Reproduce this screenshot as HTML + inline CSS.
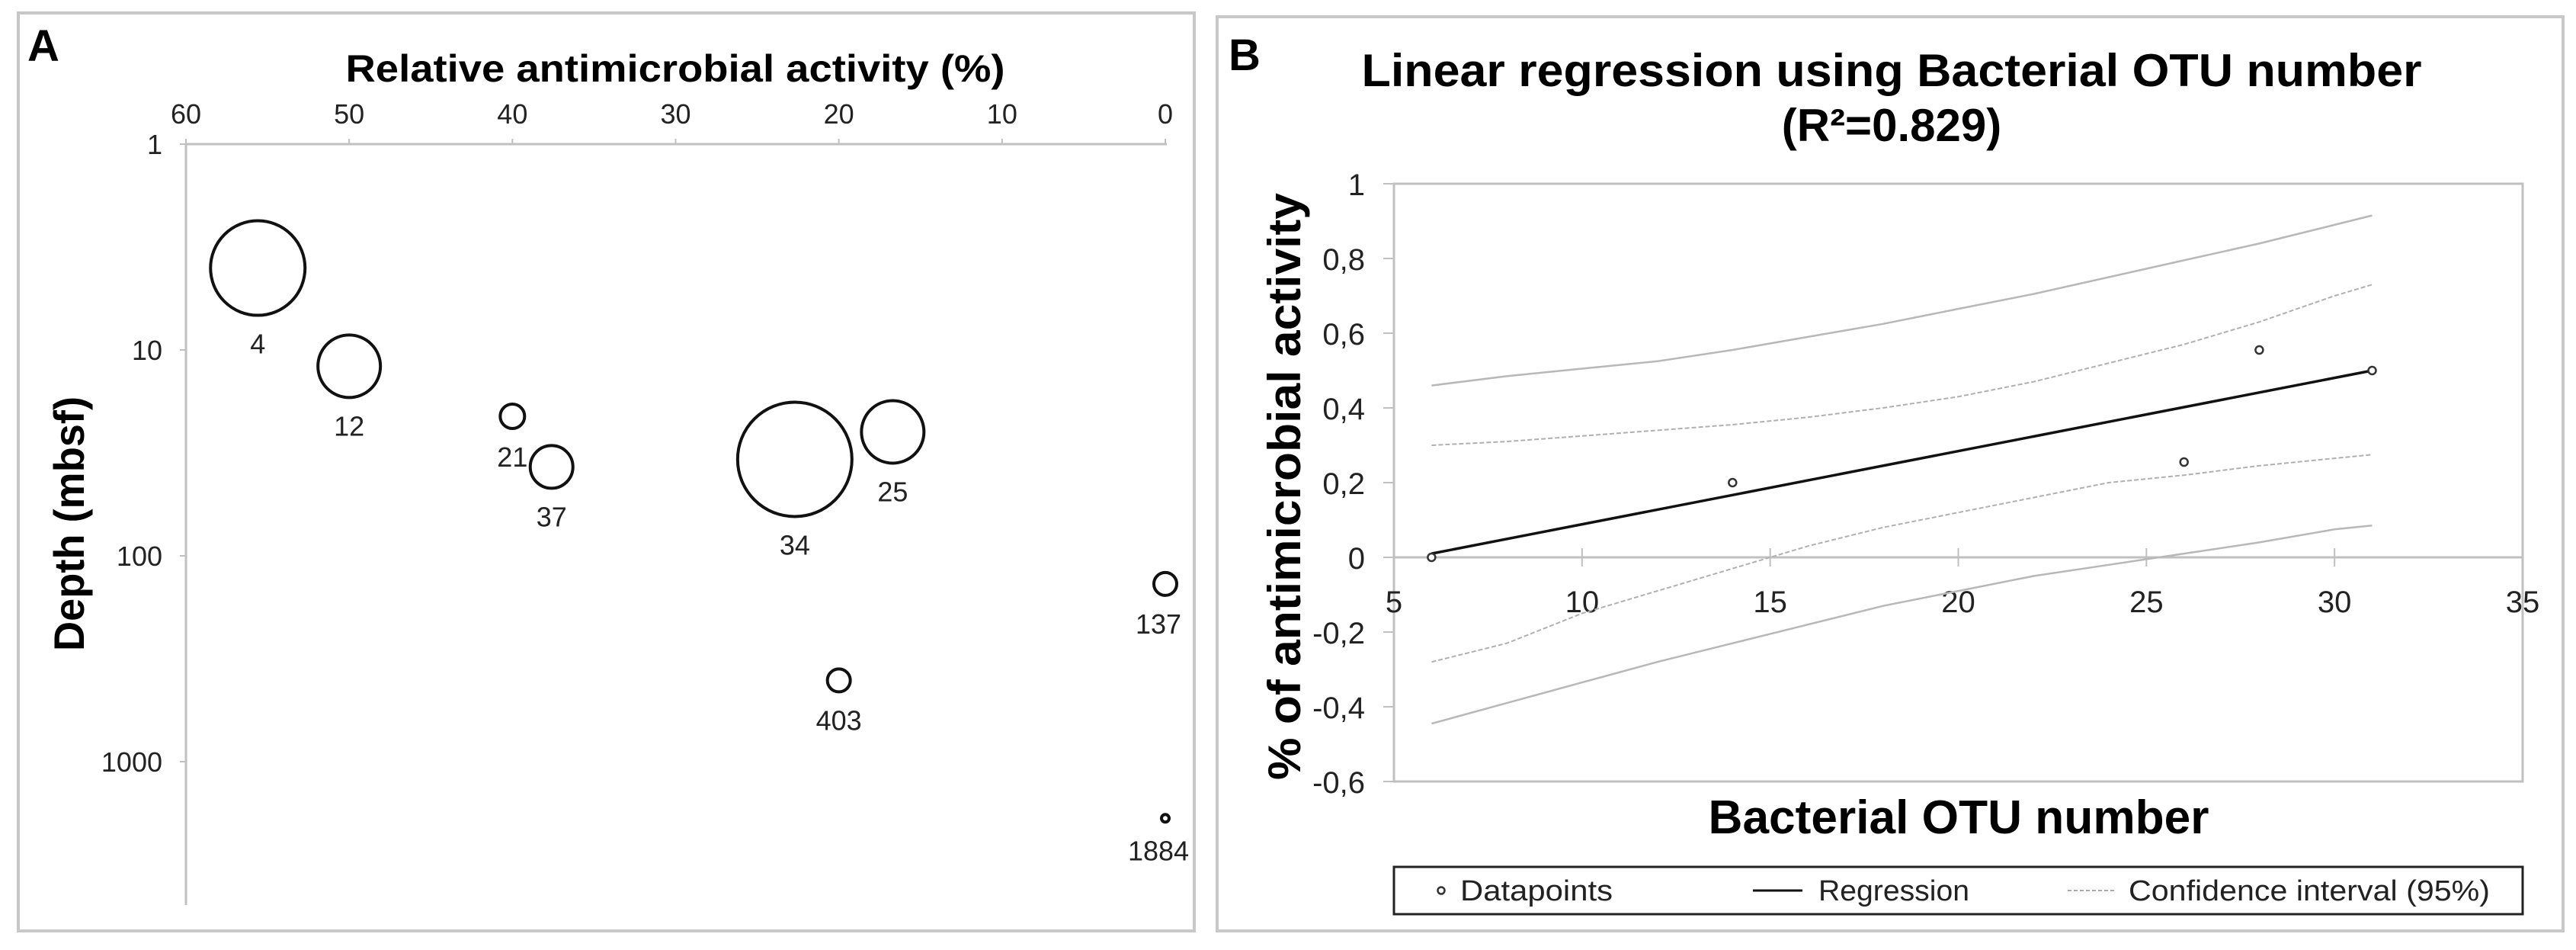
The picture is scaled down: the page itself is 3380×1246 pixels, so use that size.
<!DOCTYPE html>
<html><head><meta charset="utf-8"><style>
html,body{margin:0;padding:0;background:#fff;}
svg{display:block;font-family:"Liberation Sans",Arial,sans-serif;}
</style></head><body>
<svg id="fig" width="3380" height="1246" viewBox="0 0 3380 1246" xmlns="http://www.w3.org/2000/svg">
<rect x="0" y="0" width="3380" height="1246" fill="#fff"/>
<!-- Panel A -->
<rect x="24" y="17" width="1543" height="1204" fill="#fff" stroke="#c8c8c8" stroke-width="4"/>
<text x="36" y="80" font-size="58" font-weight="bold">A</text>
<text x="886" y="107" font-size="50" font-weight="bold" text-anchor="middle" textLength="865" lengthAdjust="spacingAndGlyphs">Relative antimicrobial activity (%)</text>
<text transform="translate(110,687) rotate(-90)" font-size="56" font-weight="bold" text-anchor="middle" textLength="334" lengthAdjust="spacingAndGlyphs">Depth (mbsf)</text>
<g id="axesA"></g>
<g id="bubbles"></g>
<!-- Panel B -->
<rect x="1597" y="22" width="1766" height="1199" fill="#fff" stroke="#c8c8c8" stroke-width="4"/>
<text x="1612" y="92" font-size="58" font-weight="bold">B</text>
<text x="2482" y="113" font-size="60" font-weight="bold" text-anchor="middle" textLength="1391" lengthAdjust="spacingAndGlyphs">Linear regression using Bacterial OTU number</text>
<text x="2482" y="185" font-size="60" font-weight="bold" text-anchor="middle">(R²=0.829)</text>
<text transform="translate(1706,638) rotate(-90)" font-size="60" font-weight="bold" text-anchor="middle" textLength="770" lengthAdjust="spacingAndGlyphs">% of antimicrobial activity</text>
<text x="2570" y="1093" font-size="62" font-weight="bold" text-anchor="middle" textLength="657" lengthAdjust="spacingAndGlyphs">Bacterial OTU number</text>
<g id="plotB"></g>
<g>
<rect x="1829" y="1137" width="1481" height="62" fill="#fff" stroke="#222" stroke-width="3"/>
<circle cx="1891" cy="1168" r="4.5" fill="none" stroke="#333" stroke-width="2.5"/>
<text x="1916" y="1181" font-size="38" textLength="200" lengthAdjust="spacingAndGlyphs" fill="#222">Datapoints</text>
<line x1="2300" y1="1168" x2="2365" y2="1168" stroke="#111" stroke-width="3"/>
<text x="2386" y="1181" font-size="38" textLength="198" lengthAdjust="spacingAndGlyphs" fill="#222">Regression</text>
<line x1="2713" y1="1168" x2="2777" y2="1168" stroke="#aaa" stroke-width="2" stroke-dasharray="5,3"/>
<text x="2793" y="1181" font-size="38" textLength="474" lengthAdjust="spacingAndGlyphs" fill="#222">Confidence interval (95%)</text>
</g>
</svg>
<script>
// Panel A data
const actTicks = [60, 50, 40, 30, 20, 10, 0];
const depthTicks = [1, 10, 100, 1000];
const activity = [55.6, 50, 40, 37.6, 22.7, 16.7, 0, 20, 0];
const depth = [4, 12, 21, 37, 34, 25, 137, 403, 1884];
const bubbleSize = [62, 41, 16, 28, 75, 41, 15, 15, 5];
const bubbleLabels = ["4", "12", "21", "37", "34", "25", "137", "403", "1884"];
// Panel B data
const bxTicks = [5, 10, 15, 20, 25, 30, 35];
const byTicks = [1, 0.8, 0.6, 0.4, 0.2, 0, -0.2, -0.4, -0.6];
const byTickLabels = ["1", "0,8", "0,6", "0,4", "0,2", "0", "-0,2", "-0,4", "-0,6"];
const otu = [6, 14, 26, 28, 31];
const antiAct = [0, 0.2, 0.255, 0.555, 0.5];
const regX = [6, 31];
const regY = [0.01, 0.5];
const ciX = [6, 8, 10, 12, 14, 16, 18, 20, 22, 24, 26, 28, 30, 31];
const ciUpper = [0.30, 0.31, 0.325, 0.34, 0.355, 0.375, 0.40, 0.43, 0.47, 0.52, 0.57, 0.63, 0.70, 0.73];
const ciLower = [-0.28, -0.23, -0.15, -0.09, -0.03, 0.03, 0.08, 0.12, 0.16, 0.20, 0.22, 0.245, 0.265, 0.275];
const piUpper = [0.46, 0.485, 0.505, 0.525, 0.555, 0.59, 0.625, 0.665, 0.705, 0.75, 0.795, 0.84, 0.89, 0.915];
const piLower = [-0.445, -0.39, -0.335, -0.28, -0.23, -0.18, -0.13, -0.09, -0.05, -0.02, 0.01, 0.04, 0.075, 0.085];

const NS = "http://www.w3.org/2000/svg";
function mk(tag, attrs, parent, txt) {
  const e = document.createElementNS(NS, tag);
  for (const k in attrs) e.setAttribute(k, attrs[k]);
  if (txt !== undefined) e.textContent = txt;
  parent.appendChild(e);
  return e;
}
// Panel A scales
const axA = document.getElementById("axesA");
const bubA = document.getElementById("bubbles");
const xA = v => 244 + (60 - v) * (1285 / 60);
const yA = d => 189 + 270 * Math.log10(d);
let e;
e = mk("line", {x1: 244, y1: 189, x2: 1531, y2: 189, stroke: "#c0c0c0", "stroke-width": 3}, axA);


e = mk("line", {x1: 244, y1: 189, x2: 244, y2: 1187, stroke: "#c0c0c0", "stroke-width": 3}, axA);


actTicks.forEach(t => {
  const x = xA(t);
  e = mk("line", {x1: x, y1: 182, x2: x, y2: 189, stroke: "#c0c0c0", "stroke-width": 2}, axA);
  
  
  e = mk("text", {x: x, y: 162, "font-size": 36, "text-anchor": "middle", fill: "#222"}, axA, String(t));
  
  
});
depthTicks.forEach(t => {
  const y = yA(t);
  e = mk("line", {x1: 236, y1: y, x2: 244, y2: y, stroke: "#c0c0c0", "stroke-width": 2}, axA);
  
  
  e = mk("text", {x: 213, y: y + 13, "font-size": 36, "text-anchor": "end", fill: "#222"}, axA, String(t));
  
  
});
activity.forEach((a, i) => {
  const cx = xA(a), cy = yA(depth[i]), r = bubbleSize[i];
  e = mk("circle", {cx: cx, cy: cy, r: r, fill: "none", stroke: "#111", "stroke-width": 4}, bubA);
  
  
  let lx = cx;
  if (cx + 40 > 1560) lx = Math.min(cx, 1520);
  e = mk("text", {x: lx, y: cy + r + 50, "font-size": 36, "text-anchor": "middle", fill: "#222"}, bubA, bubbleLabels[i]);
  
  
});
// Panel B scales
const pB = document.getElementById("plotB");
const X0 = 1829, X1 = 3310, Y0 = 241, Y1 = 1025;
const xB = v => X0 + (v - 5) * (X1 - X0) / 30;
const yB = v => Y0 + (1 - v) * (Y1 - Y0) / 1.6;
e = mk("rect", {x: X0, y: Y0, width: X1 - X0, height: Y1 - Y0, fill: "none", stroke: "#c0c0c0", "stroke-width": 3}, pB);


byTicks.forEach((t, i) => {
  const y = yB(t);
  e = mk("line", {x1: 1815, y1: y, x2: X0, y2: y, stroke: "#c0c0c0", "stroke-width": 2}, pB);
  
  
  e = mk("text", {x: 1791, y: y + 15, "font-size": 40, "text-anchor": "end", fill: "#222"}, pB, byTickLabels[i]);
  
  
});
e = mk("line", {x1: X0, y1: yB(0), x2: X1, y2: yB(0), stroke: "#c0c0c0", "stroke-width": 3}, pB);


bxTicks.forEach(t => {
  const x = xB(t);
  e = mk("line", {x1: x, y1: yB(0) - 12, x2: x, y2: yB(0) + 12, stroke: "#c0c0c0", "stroke-width": 2}, pB);
  
  
  e = mk("text", {x: x, y: yB(0) + 72, "font-size": 40, "text-anchor": "middle", fill: "#222"}, pB, String(t));
  
  
});
function pathOf(xs, ys) { return xs.map((x, i) => (i ? "L" : "M") + xB(x).toFixed(1) + "," + yB(ys[i]).toFixed(1)).join(" "); }
e = mk("path", {d: pathOf(ciX, piUpper), fill: "none", stroke: "#b8b8b8", "stroke-width": 2.5}, pB);


e = mk("path", {d: pathOf(ciX, piLower), fill: "none", stroke: "#b8b8b8", "stroke-width": 2.5}, pB);


e = mk("path", {d: pathOf(ciX, ciUpper), fill: "none", stroke: "#b0b0b0", "stroke-width": 2, "stroke-dasharray": "6,3"}, pB);


e = mk("path", {d: pathOf(ciX, ciLower), fill: "none", stroke: "#b0b0b0", "stroke-width": 2, "stroke-dasharray": "6,3"}, pB);


e = mk("path", {d: pathOf(regX, regY), fill: "none", stroke: "#111", "stroke-width": 3.5}, pB);


otu.forEach((o, i) => {
  e = mk("circle", {cx: xB(o), cy: yB(antiAct[i]), r: 5, fill: "#fff", stroke: "#333", "stroke-width": 2.5}, pB);
  
  
});
</script>
</body></html>
